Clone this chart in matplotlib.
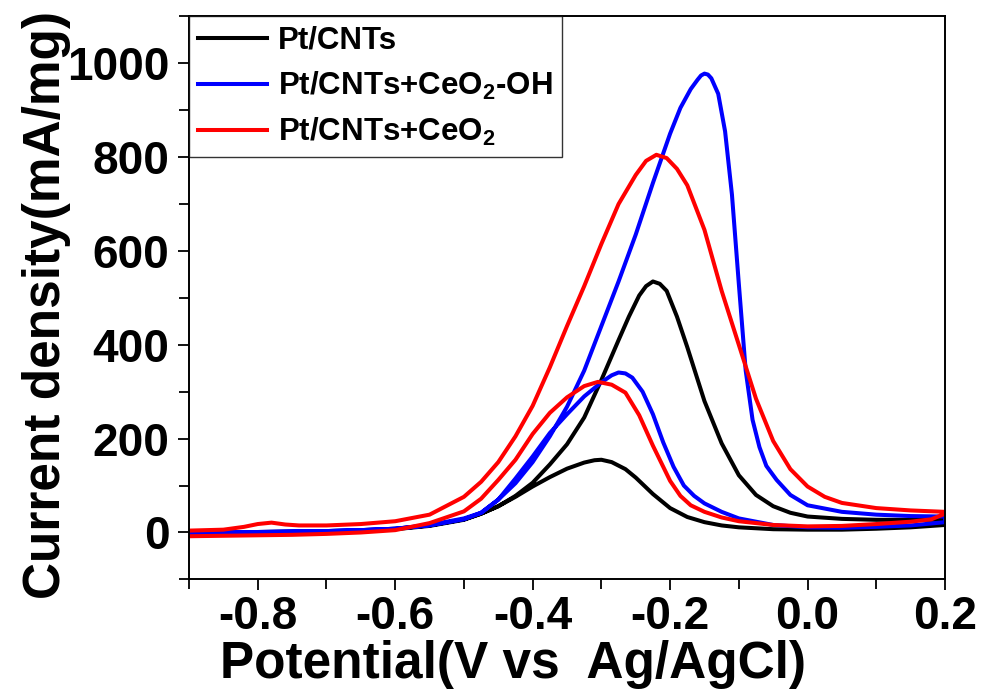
# -*- coding: utf-8 -*-
# CV curves of Pt/CNTs catalysts (forward + backward scan)

import numpy as np
import matplotlib
matplotlib.use('Agg')
import matplotlib.pyplot as plt
from matplotlib.ticker import MultipleLocator

plt.rcParams['font.family'] = ['Liberation Sans', 'DejaVu Sans']
plt.rcParams['font.weight'] = 'bold'
plt.rcParams['mathtext.fontset'] = 'custom'
plt.rcParams['mathtext.rm'] = 'Liberation Sans:bold'
plt.rcParams['mathtext.default'] = 'rm'

labels = ['Pt/CNTs', r'Pt/CNTs+CeO$_2$-OH', r'Pt/CNTs+CeO$_2$']
colors = ['black', 'blue', 'red']

# Pt/CNTs
black_fwd_v = [-0.9, -0.85, -0.8, -0.75, -0.7, -0.65, -0.6, -0.55, -0.5, -0.475, -0.45, -0.425,
               -0.4, -0.375, -0.35, -0.325, -0.3, -0.275, -0.26, -0.245, -0.235, -0.225, -0.215,
               -0.205, -0.19, -0.175, -0.15, -0.125, -0.1, -0.075, -0.05, -0.025, 0.0, 0.05,
               0.1, 0.15, 0.2]
black_fwd_i = [0, 0, 1, 2, 3, 5, 8, 15, 28, 40, 56, 78,
               106, 145, 188, 245, 325, 410, 460, 505, 525, 535, 530,
               515, 460, 395, 280, 190, 122, 80, 56, 42, 34, 29,
               27, 27, 27]
black_bwd_v = [-0.9, -0.85, -0.8, -0.75, -0.7, -0.65, -0.6, -0.55, -0.5, -0.475, -0.45, -0.425,
               -0.4, -0.375, -0.35, -0.325, -0.31, -0.3, -0.285, -0.265, -0.25, -0.225, -0.2,
               -0.175, -0.15, -0.125, -0.1, -0.05, 0.0, 0.05, 0.1, 0.15, 0.2]
black_bwd_i = [-3, -2, -1, 0, 1, 3, 7, 14, 27, 40, 56, 76,
               98, 118, 136, 149, 154, 155, 150, 135, 117, 82, 52,
               33, 22, 15, 11, 7, 6, 6, 8, 11, 16]

# Pt/CNTs+CeO2-OH
blue_fwd_v = [-0.9, -0.85, -0.8, -0.75, -0.7, -0.65, -0.6, -0.55, -0.5, -0.475, -0.45, -0.425,
              -0.4, -0.375, -0.35, -0.325, -0.3, -0.275, -0.25, -0.225, -0.2, -0.185, -0.17,
              -0.16, -0.155, -0.15, -0.145, -0.14, -0.13, -0.12, -0.11, -0.1, -0.09, -0.08,
              -0.07, -0.06, -0.045, -0.025, 0.0, 0.05, 0.1, 0.15, 0.2]
blue_fwd_i = [0, 0, 1, 2, 3, 5, 8, 15, 28, 42, 70, 105,
              150, 205, 268, 345, 440, 535, 635, 745, 850, 905, 945,
              965, 974, 978, 976, 968, 935, 855, 720, 530, 345, 240,
              182, 142, 112, 80, 58, 44, 38, 35, 34]
blue_bwd_v = [-0.9, -0.85, -0.8, -0.75, -0.7, -0.65, -0.6, -0.55, -0.5, -0.475, -0.45, -0.425,
              -0.4, -0.375, -0.35, -0.325, -0.3, -0.285, -0.275, -0.265, -0.255, -0.24, -0.225,
              -0.21, -0.195, -0.18, -0.165, -0.15, -0.125, -0.1, -0.05, 0.0, 0.05, 0.1, 0.15, 0.2]
blue_bwd_i = [0, 0, 1, 2, 3, 5, 8, 16, 30, 42, 70, 115,
              162, 212, 252, 290, 320, 335, 341, 339, 330, 300, 252,
              192, 140, 100, 78, 62, 44, 30, 16, 11, 10, 12, 15, 22]

# Pt/CNTs+CeO2
red_fwd_v = [-0.9, -0.85, -0.82, -0.8, -0.78, -0.76, -0.74, -0.7, -0.65, -0.6, -0.55, -0.5,
             -0.475, -0.45, -0.425, -0.4, -0.375, -0.35, -0.325, -0.3, -0.275, -0.25, -0.235,
             -0.22, -0.205, -0.19, -0.175, -0.15, -0.125, -0.1, -0.075, -0.05, -0.025, 0.0,
             0.025, 0.05, 0.1, 0.15, 0.2]
red_fwd_i = [4, 6, 12, 18, 21, 17, 15, 15, 18, 24, 38, 76,
             108, 150, 205, 270, 352, 440, 525, 615, 700, 762, 792,
             805, 798, 775, 740, 645, 515, 400, 285, 195, 135, 98,
             76, 63, 52, 47, 44]
red_bwd_v = [-0.9, -0.85, -0.8, -0.75, -0.7, -0.65, -0.6, -0.55, -0.5, -0.475, -0.45, -0.425,
             -0.4, -0.375, -0.35, -0.325, -0.305, -0.285, -0.265, -0.245, -0.225, -0.21, -0.2,
             -0.185, -0.17, -0.15, -0.125, -0.1, -0.05, 0.0, 0.05, 0.1, 0.15, 0.18, 0.2]
red_bwd_i = [-8, -7, -6, -5, -3, 0, 5, 20, 45, 72, 112, 155,
             210, 255, 288, 312, 321, 315, 298, 250, 185, 140, 110,
             78, 58, 44, 32, 24, 16, 13, 14, 18, 23, 28, 40]

curves = [(black_fwd_v, black_fwd_i, black_bwd_v, black_bwd_i),
          (blue_fwd_v, blue_fwd_i, blue_bwd_v, blue_bwd_i),
          (red_fwd_v, red_fwd_i, red_bwd_v, red_bwd_i)]

fig = plt.figure(figsize=(9.81, 6.91), dpi=100)
ax = fig.add_axes([0.1927, 0.1615, 0.7706, 0.8148])

for (fv, fi, bv, bi), c, lab in zip(curves, colors, labels):
    # forward scan then backward scan as one closed loop
    v = list(fv) + list(bv)[::-1]
    i = list(fi) + list(bi)[::-1]
    ax.plot(v, i, color=c, lw=2.9, label=lab, solid_joinstyle='round')

ax.set_xlim(-0.9, 0.2)
ax.set_ylim(-100, 1100)
ax.xaxis.set_minor_locator(MultipleLocator(0.1))
ax.yaxis.set_minor_locator(MultipleLocator(100))
ax.set_xticks([-0.8, -0.6, -0.4, -0.2, 0.0, 0.2])
ax.set_xticklabels(['-0.8', '-0.6', '-0.4', '-0.2', '0.0', '0.2'])
ax.set_yticks([0, 200, 400, 600, 800, 1000])
ax.tick_params(which='major', direction='out', length=8, width=1.3, labelsize=33, pad=3)
ax.tick_params(which='minor', direction='out', length=7, width=1.3)
ax.tick_params(axis='y', which='major', pad=6)
for s in ax.spines.values():
    s.set_linewidth(1.4)

ax.set_xlabel('Potential(V vs  Ag/AgCl)', fontsize=37, fontweight='bold', labelpad=1, x=0.4286)
ax.set_ylabel('Current density(mA/mg)', fontsize=37, fontweight='bold', labelpad=-3, y=0.488)

leg = ax.legend(loc='upper left', fontsize=22.5, frameon=True, fancybox=False,
                borderaxespad=0, handlelength=2.2, handletextpad=0.35,
                labelspacing=0.45, borderpad=0.3)
leg.get_frame().set_edgecolor('black')
leg.get_frame().set_linewidth(1.0)
for t in leg.get_texts():
    t.set_fontweight('bold')

fig.savefig('out.png', dpi=100)
